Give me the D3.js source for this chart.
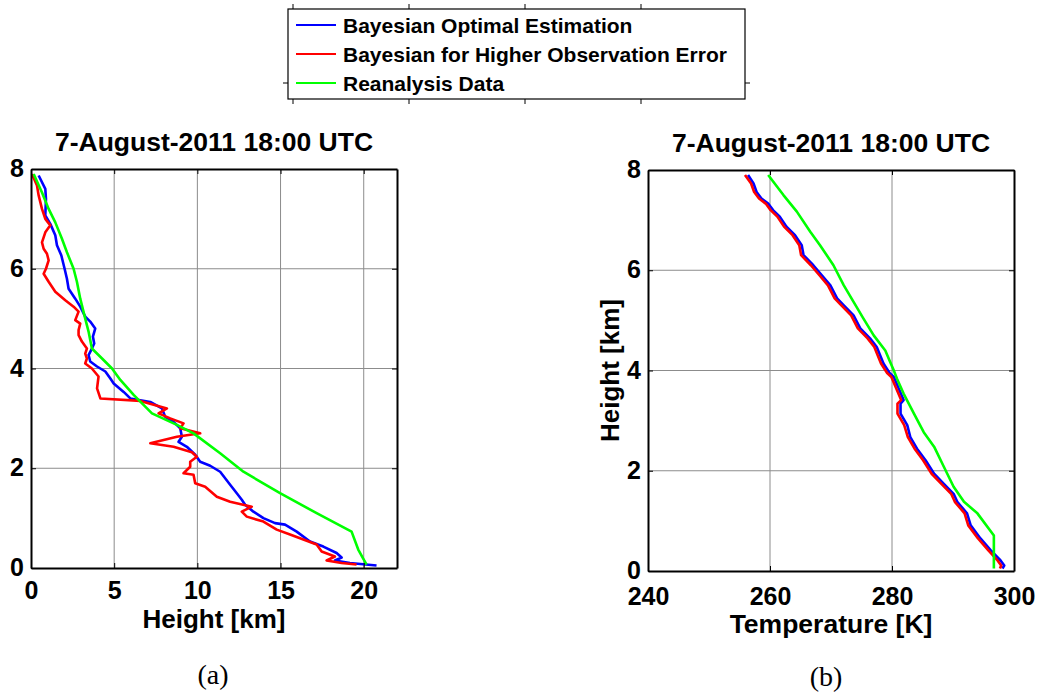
<!DOCTYPE html>
<html>
<head>
<meta charset="utf-8">
<script src="https://cdn.jsdelivr.net/npm/d3@7"></script>
<style>
  body { margin: 0; background: #fff; }
  svg text { font-family: Arial, "Liberation Sans", sans-serif; font-weight: bold; fill: #000; }
  .grid line { stroke: #8c8c8c; stroke-width: 1; }
  .axis path, .axis line { stroke: #000; }
</style>
</head>
<body>
<div id="chart"></div>
<script>
// series names / colours
var seriesNames = ["Bayesian Optimal Estimation", "Bayesian for Higher Observation Error", "Reanalysis Data"];
var seriesColors = ["#0000ff", "#ff0000", "#00ff00"];
var titleText = "7-August-2011 18:00 UTC";

// panel (a): [x value, height km]
var leftBlue = [[0.46,7.87],[0.86,7.6],[0.9,7.4],[0.86,7.07],[1.16,6.9],[1.46,6.67],[1.56,6.47],[1.82,6.27],[2.02,6.0],[2.16,5.8],[2.26,5.6],[2.66,5.4],[2.96,5.24],[3.26,5.04],[3.56,4.94],[3.86,4.8],[3.72,4.64],[3.8,4.5],[3.66,4.4],[3.46,4.27],[3.56,4.14],[3.97,4.04],[4.47,3.94],[4.77,3.8],[4.97,3.7],[5.57,3.53],[5.97,3.4],[7.17,3.33],[7.87,3.2],[8.07,3.03],[8.57,2.93],[8.97,2.8],[9.07,2.63],[8.87,2.53],[9.37,2.43],[9.87,2.27],[10.17,2.13],[10.77,2.05],[11.37,1.93],[11.97,1.67],[12.37,1.5],[12.67,1.37],[12.87,1.27],[13.37,1.13],[13.97,1.0],[14.67,0.9],[15.27,0.87],[15.97,0.73],[16.77,0.53],[17.57,0.43],[18.37,0.3],[18.67,0.21],[18.27,0.15],[19.17,0.1],[20.77,0.05]];
var leftRed = [[0.06,7.9],[0.36,7.67],[0.46,7.47],[0.66,7.2],[0.86,7.0],[1.16,6.87],[0.86,6.73],[0.66,6.53],[0.76,6.4],[0.96,6.3],[1.06,6.17],[0.9,6.0],[0.76,5.9],[1.06,5.74],[1.46,5.54],[2.06,5.37],[2.56,5.24],[2.86,5.14],[2.66,4.97],[2.96,4.9],[2.86,4.77],[2.86,4.67],[3.06,4.54],[3.36,4.4],[3.26,4.3],[3.36,4.2],[3.26,4.1],[3.66,4.0],[4.06,3.84],[3.97,3.6],[4.17,3.4],[6.57,3.35],[8.17,3.2],[7.67,3.1],[8.37,3.0],[9.17,2.9],[8.97,2.8],[10.17,2.7],[8.77,2.63],[7.17,2.5],[8.57,2.43],[9.67,2.32],[9.97,2.23],[9.57,2.13],[9.57,2.03],[9.17,1.9],[9.77,1.87],[9.87,1.7],[10.47,1.63],[11.17,1.43],[11.97,1.33],[13.27,1.23],[12.67,1.13],[12.97,1.03],[13.97,0.93],[14.77,0.77],[15.57,0.67],[16.37,0.57],[17.17,0.47],[17.47,0.33],[18.27,0.23],[17.77,0.15],[18.67,0.1],[19.57,0.07]];
var leftGreen = [[0.16,7.9],[0.66,7.53],[1.06,7.2],[1.46,6.93],[1.86,6.6],[2.16,6.33],[2.56,6.0],[2.76,5.74],[2.96,5.4],[3.26,5.0],[3.46,4.74],[3.66,4.4],[4.27,4.2],[4.87,4.0],[5.37,3.77],[6.17,3.47],[7.27,3.1],[8.77,2.87],[9.77,2.7],[11.37,2.3],[12.77,1.93],[14.97,1.5],[17.17,1.1],[19.27,0.73],[19.67,0.37],[20.17,0.07]];

// panel (b): [temperature K, height km]
var rightBlue = [[256.4,7.9],[257.3,7.73],[257.8,7.56],[258.6,7.43],[259.7,7.33],[260.5,7.2],[261.6,7.07],[262.7,6.87],[264.1,6.7],[265.2,6.5],[265.5,6.3],[267.1,6.1],[268.5,5.9],[269.9,5.7],[271.0,5.44],[272.1,5.3],[273.7,5.1],[274.8,4.84],[276.4,4.64],[277.5,4.47],[278.6,4.14],[279.6,3.95],[280.3,3.87],[281.1,3.64],[281.9,3.41],[281.4,3.34],[281.4,3.14],[282.5,2.91],[283.0,2.67],[284.1,2.44],[285.5,2.21],[286.9,1.94],[288.5,1.74],[290.1,1.54],[290.7,1.38],[292.3,1.15],[292.9,0.91],[294.5,0.65],[296.2,0.41],[297.8,0.21],[298.4,0.11],[298.1,0.05]];
var rightRed = [[255.9,7.9],[256.9,7.73],[257.4,7.56],[258.2,7.43],[259.3,7.33],[260.1,7.2],[261.2,7.07],[262.3,6.87],[263.7,6.7],[264.8,6.5],[265.1,6.3],[266.7,6.1],[268.1,5.9],[269.5,5.7],[270.6,5.44],[271.7,5.3],[273.3,5.1],[274.4,4.84],[276.0,4.64],[277.1,4.47],[278.2,4.14],[279.2,3.95],[279.9,3.87],[280.7,3.64],[281.5,3.41],[280.9,3.34],[280.9,3.14],[282.0,2.91],[282.6,2.67],[283.7,2.44],[285.1,2.21],[286.5,1.94],[288.1,1.74],[289.7,1.54],[290.3,1.38],[291.9,1.15],[292.5,0.91],[294.1,0.65],[295.8,0.41],[297.3,0.21],[297.9,0.11],[297.7,0.05]];
var rightGreen = [[259.7,7.9],[262.2,7.5],[264.4,7.17],[266.6,6.77],[268.2,6.5],[270.4,6.1],[272.1,5.7],[273.7,5.37],[275.3,5.04],[277.0,4.7],[278.9,4.4],[279.7,4.17],[280.3,4.0],[280.8,3.84],[281.9,3.54],[283.6,3.14],[285.2,2.77],[286.9,2.48],[288.5,2.08],[290.1,1.68],[291.8,1.38],[294.0,1.15],[296.7,0.71],[296.7,0.05]];

// tick values
var leftXTicks = [0, 5, 10, 15, 20];
var rightXTicks = [240, 260, 280, 300];
var yTicks = [0, 2, 4, 6, 8];

var width = 1041, height = 694;
var svg = d3.select("#chart").append("svg")
    .attr("width", width)
    .attr("height", height);

/**
 * Draws one panel of the figure
 */
function drawPanel(opt) {
    var g = svg.append("g");
    var x = d3.scaleLinear().domain(opt.xDomain).range([opt.left, opt.right]);
    var y = d3.scaleLinear().domain([0, 8]).range([opt.bottom, opt.top]);

    // grid
    var grid = g.append("g").attr("class", "grid");
    grid.selectAll(".gx").data(opt.xTicks.filter(function (d) {
            return d > opt.xDomain[0] && d < opt.xDomain[1];
        }))
        .enter().append("line")
        .attr("x1", function (d) { return x(d); }).attr("x2", function (d) { return x(d); })
        .attr("y1", opt.top).attr("y2", opt.bottom);
    grid.selectAll(".gy").data(yTicks.slice(1, 4))
        .enter().append("line")
        .attr("x1", opt.left).attr("x2", opt.right)
        .attr("y1", function (d) { return y(d); }).attr("y2", function (d) { return y(d); });

    // lines
    var line = d3.line()
        .x(function (d) { return x(d[0]); })
        .y(function (d) { return y(d[1]); });
    opt.series.forEach(function (s, i) {
        g.append("path")
            .datum(s)
            .attr("d", line)
            .attr("fill", "none")
            .attr("stroke", seriesColors[i])
            .attr("stroke-width", 2.6)
            .attr("stroke-linejoin", "round");
    });

    // axes (ticks pointing inward)
    var xAxis = d3.axisBottom(x).tickValues(opt.xTicks).tickSize(-5).tickSizeOuter(0).tickPadding(opt.xPad);
    var xAx = g.append("g").attr("class", "axis")
        .attr("transform", "translate(0," + opt.bottom + ")")
        .call(xAxis);
    xAx.selectAll("text").style("font-size", "25px").attr("dy", "0.72em");
    var yAxis = d3.axisLeft(y).tickValues(yTicks).tickSize(-5).tickSizeOuter(0).tickPadding(7);
    var yAx = g.append("g").attr("class", "axis")
        .attr("transform", "translate(" + opt.left + ",0)")
        .call(yAxis);
    yAx.selectAll("text").style("font-size", "25px").attr("dy", "0.3em");

    var xTop = d3.axisTop(x).tickValues(opt.xTicks).tickSize(-5).tickSizeOuter(0).tickFormat("");
    g.append("g").attr("class", "axis").attr("transform", "translate(0," + opt.top + ")").call(xTop);
    var yRight = d3.axisRight(y).tickValues(yTicks).tickSize(-5).tickSizeOuter(0).tickFormat("");
    g.append("g").attr("class", "axis").attr("transform", "translate(" + opt.right + ",0)").call(yRight);

    g.selectAll(".axis path").attr("stroke-width", 2);

    // title and labels
    g.append("text")
        .attr("x", (opt.left + opt.right) / 2)
        .attr("y", opt.top - 18)
        .attr("text-anchor", "middle")
        .style("font-size", "26.5px")
        .text(titleText);
    g.append("text")
        .attr("x", (opt.left + opt.right) / 2)
        .attr("y", opt.xLabelY)
        .attr("text-anchor", "middle")
        .style("font-size", opt.xLabelSize)
        .text(opt.xLabel);
    if (opt.yLabel) {
        g.append("text")
            .attr("transform", "translate(" + opt.yLabelX + "," + ((opt.top + opt.bottom) / 2) + ") rotate(-90)")
            .attr("text-anchor", "middle")
            .style("font-size", "26px")
            .text(opt.yLabel);
    }
    g.append("text")
        .attr("x", opt.capX)
        .attr("y", opt.capY)
        .attr("text-anchor", "middle")
        .style("font-family", "'Liberation Serif', 'Times New Roman', serif")
        .style("font-weight", "normal")
        .style("font-size", "28px")
        .text(opt.caption);
}

drawPanel({
    xDomain: [0, 22], left: 31, right: 397, top: 169, bottom: 568,
    xTicks: leftXTicks, xPad: 13, series: [leftBlue, leftRed, leftGreen],
    xLabel: "Height [km]", xLabelY: 628, xLabelSize: "26px",
    caption: "(a)", capX: 213, capY: 684
});
drawPanel({
    xDomain: [240, 300], left: 648, right: 1014, top: 170, bottom: 571,
    xTicks: rightXTicks, xPad: 16, series: [rightBlue, rightRed, rightGreen],
    xLabel: "Temperature [K]", xLabelY: 633, xLabelSize: "26.5px",
    yLabel: "Height [km]", yLabelX: 619,
    caption: "(b)", capX: 826, capY: 686
});

// legend
var legend = svg.append("g");
var legX = 288, legY = 9, legW = 457, legH = 90;
var legRow = d3.scalePoint().domain(seriesNames).range([legY + 16, legY + 74]);
legend.append("rect")
    .attr("x", legX).attr("y", legY).attr("width", legW).attr("height", legH)
    .attr("fill", "#fff").attr("stroke", "#000").attr("stroke-width", 1.2);
// hidden-axes tick marks round the legend box
var legTick = d3.scaleLinear().domain([0, 3]).range([293, 641]);
legend.selectAll(".lt").data([0, 1, 2, 3]).enter().append("path")
    .attr("d", function (d) {
        var px = legTick(d);
        return "M" + px + "," + (legY - 5) + "V" + legY + "M" + px + "," + (legY + legH) + "V" + (legY + legH + 5);
    })
    .attr("stroke", "#000").attr("stroke-width", 1);
legend.append("path")
    .attr("d", "M" + (legX - 5) + ",83H" + legX + "M" + (legX + legW) + ",83H" + (legX + legW + 5))
    .attr("stroke", "#000").attr("stroke-width", 1);
seriesNames.forEach(function (name, i) {
    legend.append("line")
        .attr("x1", 296).attr("x2", 336)
        .attr("y1", legRow(name)).attr("y2", legRow(name))
        .attr("stroke", seriesColors[i]).attr("stroke-width", 2.2);
    legend.append("text")
        .attr("x", 343).attr("y", legRow(name))
        .attr("dy", "0.36em")
        .style("font-size", "21px")
        .text(name);
});
</script>
</body>
</html>
